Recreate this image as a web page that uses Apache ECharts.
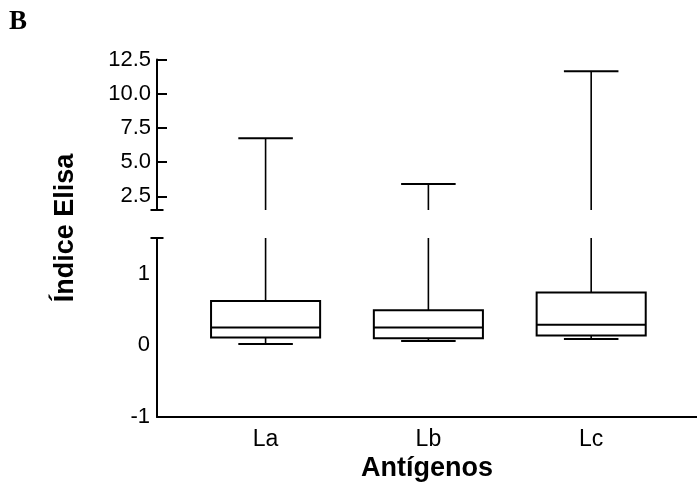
<!DOCTYPE html>
<html>
<head>
<meta charset="utf-8">
<script src="https://cdn.jsdelivr.net/npm/echarts@6/dist/echarts.min.js"></script>
<style>
  html, body { margin: 0; background: #fff; }
  #chart { width: 697px; height: 490px; }
</style>
</head>
<body>
<div id="chart"></div>
<script>
// Box plot values (Índice Elisa per antigen).
const antigens = ["La", "Lb", "Lc"];
const whiskerLow = [0.02, 0.06, 0.09];
const quartile1 = [0.11, 0.10, 0.14];
const medians = [0.25, 0.25, 0.29];
const quartile3 = [0.62, 0.49, 0.74];
const whiskerHigh = [6.75, 3.4, 11.65];

// broken y axis: upper segment 1.5..12.5, lower segment -1..1.5
const upperTicks = [2.5, 5, 7.5, 10, 12.5];
const lowerTicks = [-1, 0, 1];

const boxData = antigens.map((name, i) => [
  i + 1, whiskerLow[i], quartile1[i], medians[i], quartile3[i], whiskerHigh[i],
]);

const ink = "#000";
const sans = "'Liberation Sans', Arial, sans-serif";

// box + whiskers; caps are half the box width like the original plot
function renderBox(params, api) {
  const x = api.value(0);
  const half = api.size([1, 0])[0] * 0.335;
  const cap = half / 2;
  const p = (dim) => api.coord([x, api.value(dim)]);
  const lo = p(1), q1 = p(2), med = p(3), q3 = p(4), hi = p(5);
  const cx = lo[0];
  const line = (x1, y1, x2, y2, w) => ({
    type: "line",
    shape: { x1, y1, x2, y2 },
    style: { stroke: ink, lineWidth: w },
  });
  return {
    type: "group",
    children: [
      line(cx, q3[1], cx, hi[1], 1.6),
      line(cx - cap, hi[1], cx + cap, hi[1], 2),
      line(cx, q1[1], cx, lo[1], 1.6),
      line(cx - cap, lo[1], cx + cap, lo[1], 2),
      {
        type: "rect",
        shape: { x: cx - half, y: q3[1], width: half * 2, height: q1[1] - q3[1] },
        style: { fill: "none", stroke: ink, lineWidth: 2 },
      },
      line(cx - half, med[1], cx + half, med[1], 2),
    ],
  };
}

const xCommon = { type: "value", min: 0.333, max: 3.65, splitLine: { show: false } };

const chart = echarts.init(document.getElementById("chart"));
chart.setOption({
  animation: false,
  grid: [
    { left: 157, right: 0, top: 59.5, height: 150.5 },
    { left: 157, right: 0, top: 238, height: 179 },
  ],
  xAxis: [
    Object.assign({ gridIndex: 0, show: false }, xCommon),
    Object.assign({
      gridIndex: 1,
      axisLine: { onZero: false, lineStyle: { color: ink, width: 2 } },
      axisTick: { show: false },
      axisLabel: {
        customValues: [1, 2, 3],
        formatter: (v) => antigens[Math.round(v) - 1],
        color: ink, fontFamily: sans, fontSize: 23, margin: 11,
      },
      name: "Antígenos",
      nameLocation: "middle",
      nameGap: 38,
      nameTextStyle: { color: ink, fontFamily: sans, fontSize: 27, fontWeight: "bold" },
    }, xCommon),
  ],
  yAxis: [
    {
      gridIndex: 0, type: "value", min: 1.5, max: 12.5,
      splitLine: { show: false },
      axisLine: {
        show: true, onZero: false, lineStyle: { color: ink, width: 2 },
        symbol: ["rect", "none"], symbolSize: [13, 2],
      },
      axisTick: {
        show: true, inside: true, length: 10, customValues: upperTicks,
        lineStyle: { color: ink, width: 2 },
      },
      axisLabel: {
        customValues: upperTicks,
        formatter: (v) => v.toFixed(1),
        color: ink, fontFamily: sans, fontSize: 22, margin: 6,
      },
    },
    {
      gridIndex: 1, type: "value", min: -1, max: 1.5,
      splitLine: { show: false },
      axisLine: {
        show: true, onZero: false, lineStyle: { color: ink, width: 2 },
        symbol: ["none", "rect"], symbolSize: [13, 2],
      },
      axisTick: { show: false },
      axisLabel: {
        customValues: lowerTicks,
        color: ink, fontFamily: sans, fontSize: 22, margin: 7,
      },
    },
  ],
  graphic: [
    {
      type: "text", left: 9, top: 9,
      style: { text: "B", fill: ink, font: "bold 27px 'Liberation Serif', 'Times New Roman', serif" },
    },
    {
      type: "text", x: 66, y: 228, rotation: Math.PI / 2,
      style: {
        text: "Índice Elisa", fill: ink, align: "center", verticalAlign: "middle",
        font: "bold 27px " + sans,
      },
    },
  ],
  series: [0, 1].map((g) => ({
    type: "custom",
    xAxisIndex: g,
    yAxisIndex: g,
    clip: true,
    data: boxData,
    encode: { x: 0, y: [1, 2, 3, 4, 5] },
    renderItem: renderBox,
  })),
});
window.addEventListener("resize", () => chart.resize());
</script>
</body>
</html>
